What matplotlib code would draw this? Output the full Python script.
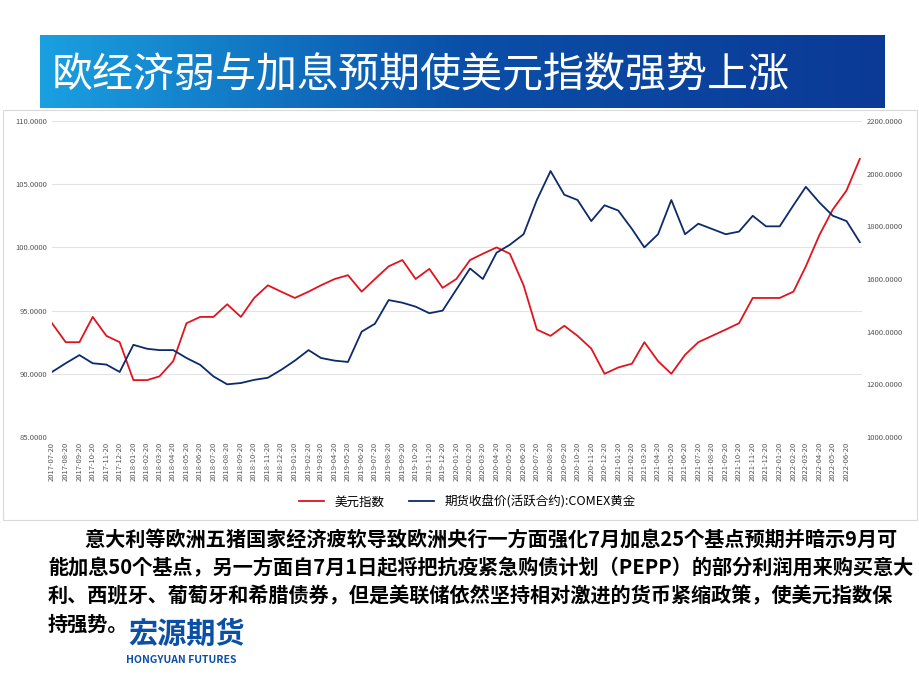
import matplotlib
matplotlib.use("Agg")
import matplotlib.pyplot as plt
import numpy as np
import pandas as pd
from matplotlib.patches import Rectangle
from matplotlib.colors import LinearSegmentedColormap

plt.rcParams['font.family'] = ['Noto Sans CJK JP', 'DejaVu Sans']

months = pd.date_range("2017-07-01", "2022-07-01", freq="MS") + pd.Timedelta(days=19)
usd = [94.0, 92.5, 92.5, 94.5, 93.0, 92.5, 89.5, 89.5, 89.8, 91.0, 94.0, 94.5,
       94.5, 95.5, 94.5, 96.0, 97.0, 96.5, 96.0, 96.5, 97.0, 97.5, 97.8, 96.5,
       97.5, 98.5, 99.0, 97.5, 98.3, 96.8, 97.5, 99.0, 99.5, 100.0, 99.5, 97.0,
       93.5, 93.0, 93.8, 93.0, 92.0, 90.0, 90.5, 90.8, 92.5, 91.0, 90.0, 91.5,
       92.5, 93.0, 93.5, 94.0, 96.0, 96.0, 96.0, 96.5, 98.5, 101.0, 103.0, 104.5, 107.0]
gold = [1247, 1280, 1311, 1280, 1275, 1247, 1350, 1335, 1330, 1330, 1300, 1274,
        1230, 1200, 1205, 1217, 1225, 1255, 1290, 1330, 1300, 1290, 1285, 1400,
        1430, 1520, 1510, 1495, 1470, 1480, 1560, 1640, 1600, 1700, 1730, 1770,
        1900, 2010, 1920, 1900, 1820, 1880, 1860, 1790, 1720, 1770, 1900, 1770,
        1810, 1790, 1770, 1780, 1840, 1800, 1800, 1880, 1950, 1890, 1840, 1820, 1740]
tick_labels = [d.strftime("%Y-%m-%d") for d in months[:-1]]

fig = plt.figure(figsize=(9.2, 6.9), dpi=100)

ban = fig.add_axes([40/920, 1-108/690, 845/920, 73/690])
grad = np.linspace(0, 1, 256).reshape(1, -1)
cm = LinearSegmentedColormap.from_list("b", ["#1aa0e0", "#0a4fa8", "#0a3a96"])
ban.imshow(grad, aspect="auto", cmap=cm, extent=[0, 1, 0, 1])
ban.set_xlim(0, 1); ban.set_ylim(0, 1); ban.axis("off")
ban.text(0.014, 0.44, "欧经济弱与加息预期使美元指数强势上涨", color="white", fontsize=29.5, va="center")

fig.add_artist(Rectangle((3/920, 1-520/690), 914/920, 410/690, transform=fig.transFigure,
                         fill=False, edgecolor="#d9d9d9", lw=0.8))

ax = fig.add_axes([52/920, 1-437/690, 810/920, 316/690])
ax2 = ax.twinx()
ax.plot(months, usd, color="#e0141e", lw=1.3, label="美元指数")
ax2.plot(months, gold, color="#0d2a6b", lw=1.3, label="期货收盘价(活跃合约):COMEX黄金")
ax.set_ylim(85, 110); ax2.set_ylim(1000, 2200)
ax.set_yticks(np.arange(85, 111, 5)); ax2.set_yticks(np.arange(1000, 2201, 200))
ax.set_yticklabels([f"{v:.4f}" for v in np.arange(85, 111, 5)], fontsize=5.5, color="#555")
ax2.set_yticklabels([f"{v:.4f}" for v in np.arange(1000, 2201, 200)], fontsize=5.5, color="#555")
ax.set_xticks(months[:-1]); ax.set_xticklabels(tick_labels, rotation=90, fontsize=5.5, color="#555")
ax.set_xlim(months[0], months[-1] + pd.Timedelta(days=5))
ax.grid(axis="y", color="#e3e3e3", lw=0.8)
for a in (ax, ax2):
    for s in a.spines.values(): s.set_visible(False)
    a.tick_params(length=0)
h1, l1 = ax.get_legend_handles_labels(); h2, l2 = ax2.get_legend_handles_labels()
fig.legend(h1 + h2, l1 + l2, loc="center", bbox_to_anchor=(0.508, 1-502/690), ncol=2,
           frameon=False, fontsize=9, handlelength=2)

txt = ["        意大利等欧洲五猪国家经济疲软导致欧洲央行一方面强化7月加息25个基点预期并暗示9月可",
       "能加息50个基点，另一方面自7月1日起将把抗疫紧急购债计划（PEPP）的部分利润用来购买意大",
       "利、西班牙、葡萄牙和希腊债券，但是美联储依然坚持相对激进的货币紧缩政策，使美元指数保",
       "持强势。"]
for i, t in enumerate(txt):
    fig.text(48/920, 1-(540+28*i)/690, t, fontsize=14.5, fontweight="bold", va="center")

fig.text(128/920, 1-634/690, "宏源期货", fontsize=21, fontweight="bold", color="#0a4fa8", va="center")
fig.text(126/920, 1-660/690, "HONGYUAN FUTURES", fontsize=7.5, fontweight="bold", color="#0a4fa8", va="center")

fig.savefig("out.png", dpi=100)
